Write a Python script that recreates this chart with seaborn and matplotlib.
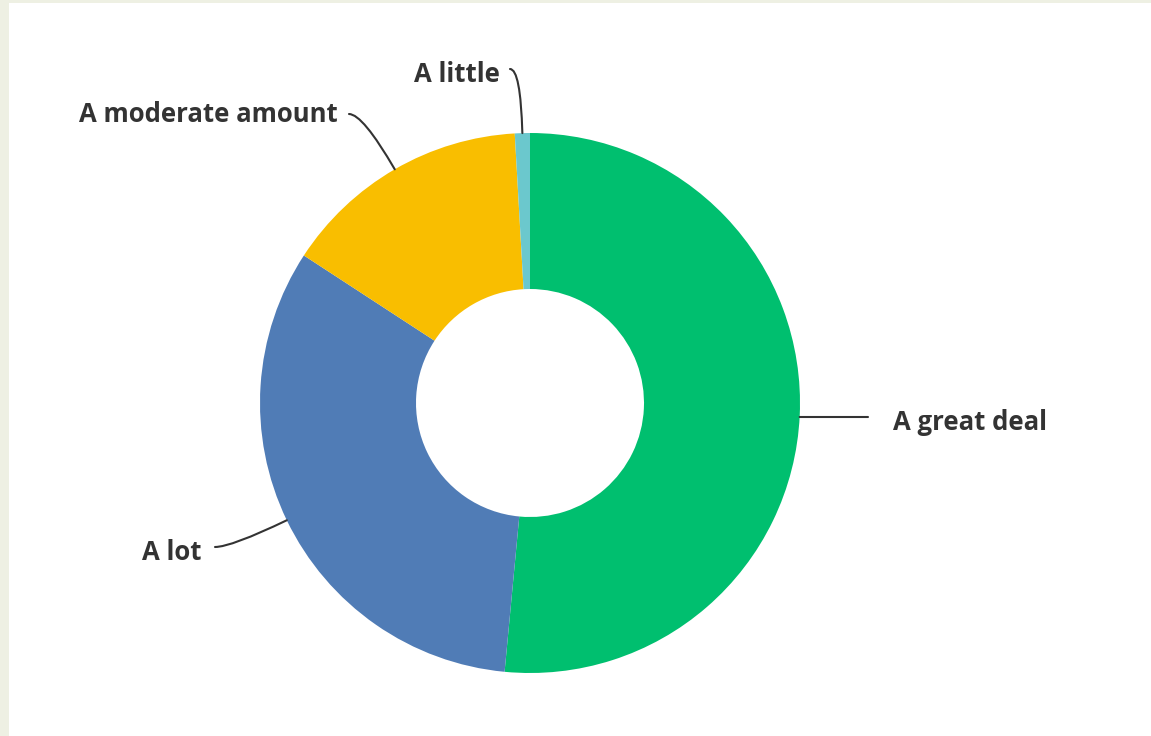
import numpy as np
import matplotlib
matplotlib.use("Agg")
import matplotlib.pyplot as plt
import seaborn as sns
from matplotlib.patches import Rectangle

# ---- data ----
categories = ["A great deal", "A lot", "A moderate amount", "A little"]
values = [51.5, 32.7, 14.9, 0.9]
colors = ["#00bf6f", "#507cb6", "#f9be00", "#6bc8cd"]

sns.set_theme(style="white")
plt.rcParams['font.family'] = ['Open Sans', 'DejaVu Sans']

W, H, DPI = 1151, 736, 100
fig = plt.figure(figsize=(W / DPI, H / DPI), dpi=DPI)
fig.patch.set_facecolor("#eef0e3")
fig.patches.append(Rectangle((9 / W, 0), 1 - 9 / W, 1 - 3 / H, transform=fig.transFigure,
                             facecolor="white", edgecolor="none", zorder=-5))

# pixel layout: center (530, 403), outer radius 270 px
CX, CY, R = 530, 403, 270
ax = fig.add_axes([0, 0, 1, 1])
ax.set_zorder(2)
ax.set_facecolor("none")

def px(x, y):
    return ((x - CX) / R, (CY - y) / R)

wedges, _ = ax.pie(values, colors=colors, startangle=90, counterclock=False, radius=1,
                   wedgeprops=dict(width=1 - 114 / R, edgecolor="none", linewidth=0))
ax.set_aspect("auto")
ax.set_xlim(-CX / R, (W - CX) / R)
ax.set_ylim(-(H - CY) / R, CY / R)
ax.axis("off")

# label layout: (text anchor px, ha, line end px)
layout = {
    "A great deal": dict(text=(893, 422), ha="left", end=(868, 417), style="arc3,rad=0"),
    "A lot": dict(text=(201, 552), ha="right", end=(215, 547), style=None),
    "A moderate amount": dict(text=(338, 115), ha="right", end=(349, 114), style=None),
    "A little": dict(text=(500, 74), ha="right", end=(510, 69), style=None),
}

txt_color = "#333333"
for w, cat in zip(wedges, categories):
    mid = np.deg2rad((w.theta1 + w.theta2) / 2)
    start = (np.cos(mid), np.sin(mid))
    L = layout[cat]
    if L["style"]:
        start = (start[0], px(*L["end"])[1])
        style = L["style"]
    else:
        style = f"angle3,angleA=0,angleB={np.rad2deg(mid):.1f}"
    ax.annotate("", xy=start, xytext=px(*L["end"]),
                arrowprops=dict(arrowstyle="-", color=txt_color, lw=1.5,
                                connectionstyle=style, shrinkA=0, shrinkB=0))
    ax.text(*px(*L["text"]), cat, ha=L["ha"], va="center", fontsize=18.5,
            fontweight="bold", color=txt_color)

fig.savefig("out.png", dpi=DPI)
